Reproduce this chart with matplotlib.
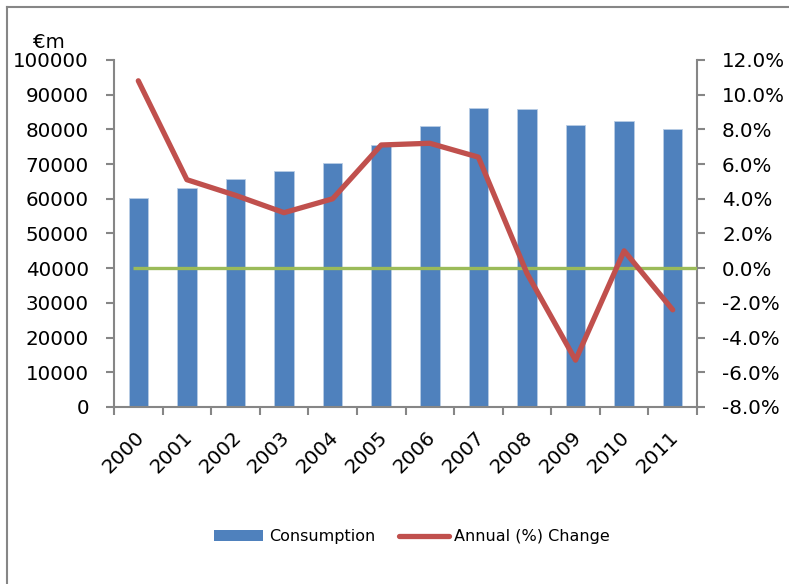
import matplotlib
matplotlib.use('Agg')
import matplotlib.pyplot as plt
import matplotlib.transforms as mtransforms
from matplotlib.lines import Line2D
from matplotlib.patches import Patch

years = ['2000', '2001', '2002', '2003', '2004', '2005',
         '2006', '2007', '2008', '2009', '2010', '2011']
consumption = [60200, 63100, 65700, 67900, 70400, 75600,
               81000, 86200, 86000, 81400, 82300, 80200]
annual_change = [10.8, 5.1, 4.2, 3.2, 4.0, 7.1,
                 7.2, 6.4, -0.3, -5.3, 1.0, -2.4]

plt.rcParams['font.family'] = ['DejaVu Sans']

fig = plt.figure(figsize=(7.89, 5.84), dpi=100)
ax = fig.add_axes([0.1445, 0.3031, 0.7389, 0.5942])
ax2 = ax.twinx()

x = list(range(len(years)))
ax.bar(x, consumption, width=0.4, color='#4F81BD', edgecolor='#B9CDE5',
       linewidth=0.6, zorder=2)
ax.set_xlim(-0.5, 11.5)
ax.set_ylim(0, 100000)
ax.set_yticks(range(0, 100001, 10000))
ax.set_xticks([i - 0.5 for i in range(13)], minor=True)
ax.set_xticks(x)
ax.set_xticklabels(years, rotation=45, ha='right', rotation_mode='anchor')
ax.tick_params(axis='x', which='major', length=0, labelsize=14.3, pad=15)
ax.tick_params(axis='x', which='minor', length=6, color='#868686', width=1.5,
               direction='out')
ax.tick_params(axis='y', length=6, color='#868686', width=1.5, labelsize=14.3,
               pad=12)
shift = mtransforms.ScaledTranslation(-4 / 100, 0, fig.dpi_scale_trans)
for lbl in ax.get_xticklabels():
    lbl.set_transform(lbl.get_transform() + shift)

ax2.set_ylim(-8, 12)
ax2.set_yticks(range(-8, 13, 2))
ax2.set_yticklabels(['%.1f%%' % v for v in range(-8, 13, 2)])
ax2.tick_params(axis='y', length=6, color='#868686', width=1.5, labelsize=14.3,
                pad=12)
ax2.hlines(0, -0.1, 11.5, color='#9BBB59', linewidth=2.4, zorder=3)
ax2.plot(x, annual_change, color='#C0504D', linewidth=3.8,
         solid_capstyle='round', solid_joinstyle='round', zorder=4)

for a in (ax, ax2):
    a.spines['top'].set_visible(False)
    for s in ('left', 'right', 'bottom'):
        a.spines[s].set_color('#868686')
        a.spines[s].set_linewidth(1.5)
ax.spines['right'].set_visible(False)
ax2.spines['left'].set_visible(False)
ax2.spines['bottom'].set_visible(False)

fig.text(0.042, 0.918, '€m', fontsize=14.3, ha='left', va='baseline')

# outer frame (only top and left visible)
fig.add_artist(Line2D([0.0095, 0.0095], [0, 0.988], color='#868686',
                      linewidth=1.5, transform=fig.transFigure))
fig.add_artist(Line2D([0.0095, 1.0], [0.988, 0.988], color='#868686',
                      linewidth=1.5, transform=fig.transFigure))

handles = [Patch(facecolor='#4F81BD', edgecolor='none'),
           Line2D([0], [0], color='#C0504D', linewidth=3.8,
                  solid_capstyle='round')]
fig.legend(handles, ['Consumption', 'Annual (%) Change'], loc='center',
           bbox_to_anchor=(0.522, 0.0805), ncol=2, frameon=False,
           fontsize=11.5, handlelength=3.1, handleheight=0.7,
           handletextpad=0.35, columnspacing=1.5)

fig.savefig('out.png', dpi=100)
